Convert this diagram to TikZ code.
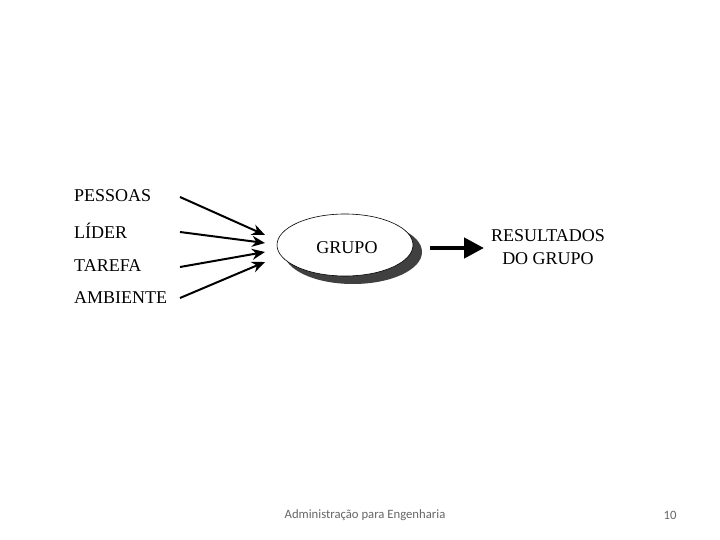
\documentclass[tikz,border=0pt]{standalone}
\usepackage{fontspec}
\setmainfont{Liberation Serif}
\newfontfamily\footfont{Carlito}
\usetikzlibrary{arrows.meta,shapes.geometric}
\begin{document}
\begin{tikzpicture}[x=1pt,y=-1pt,
  lbl/.style={font=\fontsize{18}{21}\selectfont, anchor=west, inner sep=0pt},
  inarrow/.style={-{Stealth[length=13pt,width=11pt]}, line width=2pt},
  foot/.style={font=\footfont\fontsize{12.7}{15}\selectfont, text=black!60, inner sep=0pt}]
\useasboundingbox (0,0) rectangle (720,540);
\fill[white] (0,0) rectangle (720,540);
% labels
\node[lbl] (pessoas) at (74,196) {PESSOAS};
\node[lbl] (lider) at (74,231) {LÍDER};
\node[lbl] (tarefa) at (74,266) {TAREFA};
\node[lbl] (ambiente) at (74,298) {AMBIENTE};
% arrow start/end coordinates
\coordinate (s1) at (180,197);
\coordinate (s2) at (180,232);
\coordinate (s3) at (180,267);
\coordinate (s4) at (180,298);
\coordinate (e1) at (265,235);
\coordinate (e2) at (265,243);
\coordinate (e3) at (265,252);
\coordinate (e4) at (265,262);
\draw[inarrow] (s1) -- (e1);
\draw[inarrow] (s2) -- (e2);
\draw[inarrow] (s3) -- (e3);
\draw[inarrow] (s4) -- (e4);
% group ellipse with shadow
\fill[black!75] (353,252) ellipse [x radius=69, y radius=32];
\node[draw, ellipse, fill=white, line width=0.6pt, minimum width=136pt, minimum height=62pt, inner sep=0pt] (grupo) at (345,245) {};
\node[font=\fontsize{18}{21}\selectfont, inner sep=0pt] (grupot) at (347,248) {GRUPO};
% output arrow
\coordinate (oa) at (430,248);
\coordinate (ob) at (484,248);
\draw[-{Triangle[length=20pt,width=20pt]}, line width=4.5pt] (oa) -- (ob);
\node[font=\fontsize{18}{21}\selectfont, align=center, inner sep=0pt] (res) at (548,247) {RESULTADOS\\[2pt]DO GRUPO};
% footer
\node[foot] (ft) at (365,515) {Administração para Engenharia};
\node[foot] (pg) at (670,515) {10};
\end{tikzpicture}
\end{document}
